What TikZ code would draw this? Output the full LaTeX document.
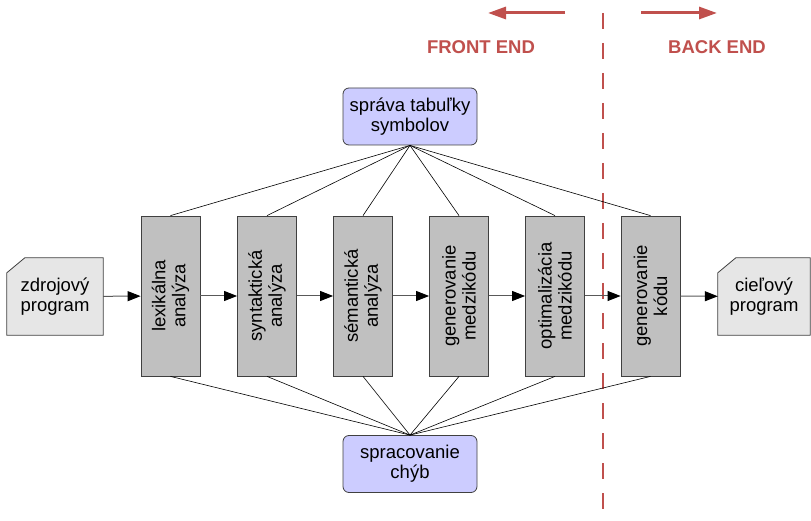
\documentclass[tikz,border=0pt]{standalone}
\usepackage{fontspec}
\setmainfont{Liberation Sans}
\usetikzlibrary{arrows.meta,backgrounds,calc}
\definecolor{stagegray}{HTML}{C0C0C0}
\definecolor{iogray}{HTML}{E6E6E6}
\definecolor{tablelav}{HTML}{CCCCFF}
\definecolor{splitred}{HTML}{C0504D}
\definecolor{edgegray}{HTML}{404040}

\begin{document}
\begin{tikzpicture}[x=1pt,y=-1pt,
  every node/.style={font=\fontsize{18.5}{20}\selectfont, align=center, inner sep=0pt},
  stage/.style={rotate=90, draw=edgegray, fill=stagegray, line width=0.8pt,
                minimum width=160, minimum height=59},
  iobox/.style={minimum width=#1, minimum height=77},
  chamfer/.style={draw=edgegray, fill=iogray, line width=0.8pt},
  service/.style={draw=edgegray, fill=tablelav, line width=0.8pt, rounded corners=6,
                  minimum width=134, minimum height=57},
  flow/.style={draw=black!65, line width=1pt,
               -{Triangle[length=13pt,width=10pt,color=black]}},
  link/.style={draw=black, line width=0.6pt},
  split/.style={draw=splitred, line width=2.6pt, dash pattern=on 16pt off 14pt},
  sidearrow/.style={draw=splitred, line width=3pt, -{Triangle[length=18pt,width=12pt]}},
  sidelabel/.style={font=\fontsize{18.5}{20}\selectfont\bfseries, text=splitred}
]
\useasboundingbox (0,0) rectangle (811,521);

% front end / back end divider
\coordinate (dtop) at (603,13);
\coordinate (dbot) at (603,521);
\draw[split] (dtop) -- (dbot);

\coordinate (la1) at (565,13);
\coordinate (la2) at (488,13);
\coordinate (ra1) at (641,13);
\coordinate (ra2) at (717,13);
\draw[sidearrow] (la1) -- (la2);
\draw[sidearrow] (ra1) -- (ra2);
\node[sidelabel] (fe) at (481,47) {FRONT END};
\node[sidelabel] (be) at (717,47) {BACK END};

% input and output programs
\node[iobox=96] (src) at (55,296.5) {zdrojový\\program};
\node[iobox=92] (tgt) at (764,296.5) {cieľový\\program};
\begin{scope}[on background layer]
  \draw[chamfer] (src.south west) -- ($(src.north west)+(0,15)$)
    -- ($(src.north west)+(18,0)$) -- (src.north east) -- (src.south east) -- cycle;
  \draw[chamfer] (tgt.south west) -- ($(tgt.north west)+(0,15)$)
    -- ($(tgt.north west)+(18,0)$) -- (tgt.north east) -- (tgt.south east) -- cycle;
\end{scope}

% compiler phases
\node[stage] (b1) at (170.5,296) {lexikálna\\analýza};
\node[stage] (b2) at (267,296) {syntaktická\\analýza};
\node[stage] (b3) at (363,296) {sémantická\\analýza};
\node[stage] (b4) at (459,296) {generovanie\\medzikódu};
\node[stage] (b5) at (555,296) {optimalizácia\\medzikódu};
\node[stage] (b6) at (650.5,296) {generovanie\\kódu};

% shared services
\node[service] (sym) at (410,116.5) {správa tabuľky\\symbolov};
\node[service] (err) at (410,464) {spracovanie\\chýb};

\draw[flow] (src) -- (b1);
\draw[flow] (b1) -- (b2);
\draw[flow] (b2) -- (b3);
\draw[flow] (b3) -- (b4);
\draw[flow] (b4) -- (b5);
\draw[flow] (b5) -- (b6);
\draw[flow] (b6) -- (tgt);

\foreach \b in {b1,b2,b3,b4,b5,b6} {
  \draw[link] (sym.south) -- (\b.east);
  \draw[link] (err.north) -- (\b.west);
}
\end{tikzpicture}
\end{document}
